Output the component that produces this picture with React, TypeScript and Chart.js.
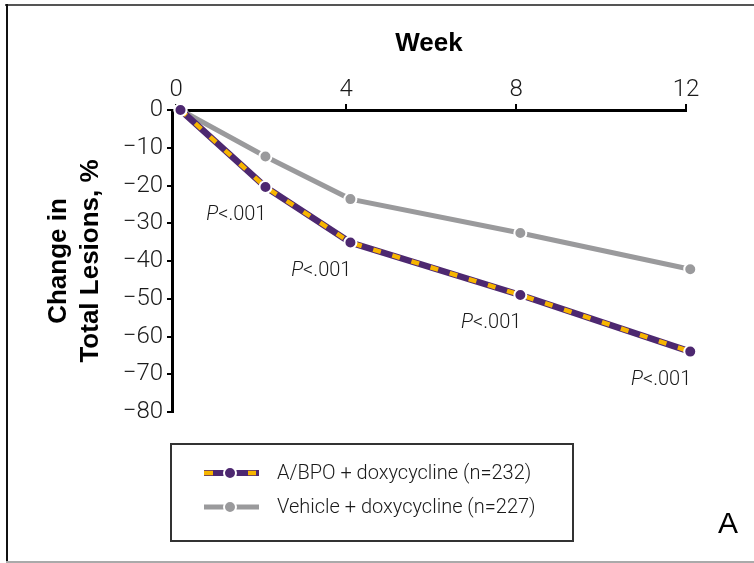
import { useEffect, useRef } from 'react';
import { Chart, registerables } from 'chart.js';

Chart.register(...registerables);

// ---- data ----
const weeks = [0, 2, 4, 8, 12];
const abpoValues = [0, -20.4, -35.1, -49.0, -64.0];
const vehicleValues = [0, -12.3, -23.6, -32.6, -42.2];
const pLabels = ['', 'P<.001', 'P<.001', 'P<.001', 'P<.001'];
const xTickValues = [0, 4, 8, 12];
const yMin = -80;
const yMax = 0;
const yStep = 10;
const seriesLabels = ['A/BPO + doxycycline (n=232)', 'Vehicle + doxycycline (n=227)'];
const xTitle = 'Week';
const yTitle = ['Change in', 'Total Lesions, %'];
const panelLabel = 'A';

// ---- styles ----
const PURPLE = '#4d2870';
const YELLOW = '#f7b500';
const GRAY = '#9a9a9c';
const TEXT = '#1a1a1a';
const LIGHT_FONT = 'Roboto, "Liberation Sans", Arial, sans-serif';
const BOLD_FONT = '"Liberation Sans", Arial, sans-serif';
const POINT_SHIFT = 0.1; // points sit slightly right of the week ticks in the figure

const toPoints = (vals: number[]) => weeks.map((w, i) => ({ x: w + POINT_SHIFT, y: vals[i] }));

const framePlugin = {
  id: 'frame',
  beforeDraw(chart: any) {
    const { ctx } = chart;
    ctx.save();
    ctx.fillStyle = '#ffffff';
    ctx.fillRect(0, 0, chart.width, chart.height);
    ctx.fillStyle = '#555555';
    ctx.fillRect(5, 4, chart.width - 5, 2);
    ctx.fillStyle = '#111111';
    ctx.fillRect(6, 4, 2, chart.height - 5);
    ctx.fillStyle = '#aaaaaa';
    ctx.fillRect(6, chart.height - 2, chart.width - 6, 2);
    ctx.restore();
  },
};

const annotationPlugin = {
  id: 'annots',
  afterDatasetsDraw(chart: any) {
    const { ctx } = chart;
    const meta = chart.getDatasetMeta(0);
    ctx.save();
    ctx.fillStyle = TEXT;
    ctx.textBaseline = 'middle';
    meta.data.forEach((pt: any, i: number) => {
      const label = pLabels[i];
      if (!label) return;
      const rest = label.slice(1);
      const x = pt.x + 1;
      const y = pt.y + 28;
      ctx.font = `300 20px ${LIGHT_FONT}`;
      const w = ctx.measureText(rest).width;
      ctx.textAlign = 'right';
      ctx.fillText(rest, x, y);
      ctx.font = `italic 300 20px ${LIGHT_FONT}`;
      ctx.fillText(label[0], x - w, y);
    });
    ctx.restore();
  },
};

const legendPlugin = {
  id: 'customLegend',
  afterDraw(chart: any) {
    const { ctx } = chart;
    ctx.save();
    // box
    ctx.strokeStyle = '#333333';
    ctx.lineWidth = 2;
    ctx.strokeRect(171, 444, 402, 97);
    const rows = [473, 507];
    const x0 = 204;
    const x1 = 259;
    const xm = 230;
    rows.forEach((y, i) => {
      if (i === 0) {
        ctx.strokeStyle = PURPLE;
        ctx.lineWidth = 6;
        ctx.beginPath();
        ctx.moveTo(x0, y);
        ctx.lineTo(x1, y);
        ctx.stroke();
        ctx.strokeStyle = YELLOW;
        ctx.lineWidth = 4.5;
        ctx.beginPath();
        ctx.moveTo(x0, y);
        ctx.lineTo(x0 + 9, y);
        ctx.moveTo(x1 - 11, y);
        ctx.lineTo(x1 - 3, y);
        ctx.stroke();
      } else {
        ctx.strokeStyle = GRAY;
        ctx.lineWidth = 5;
        ctx.beginPath();
        ctx.moveTo(x0, y);
        ctx.lineTo(x1, y);
        ctx.stroke();
      }
      ctx.beginPath();
      ctx.arc(xm, y, 6, 0, Math.PI * 2);
      ctx.fillStyle = i === 0 ? PURPLE : GRAY;
      ctx.fill();
      ctx.lineWidth = 2;
      ctx.strokeStyle = '#ffffff';
      ctx.stroke();
      ctx.fillStyle = TEXT;
      ctx.font = `300 20px ${LIGHT_FONT}`;
      ctx.textAlign = 'left';
      ctx.textBaseline = 'middle';
      ctx.fillText(seriesLabels[i], 277, y + 1);
    });
    // panel letter
    ctx.fillStyle = '#000000';
    ctx.font = `30px ${BOLD_FONT}`;
    ctx.textAlign = 'center';
    ctx.textBaseline = 'middle';
    ctx.fillText(panelLabel, 728, 525);
    ctx.restore();
  },
};

export default function App() {
  const ref = useRef<HTMLCanvasElement | null>(null);
  useEffect(() => {
    if (!ref.current) return;
    const chart = new Chart(ref.current, {
      type: 'line',
      data: {
        datasets: [
          {
            label: seriesLabels[0],
            data: toPoints(abpoValues),
            showLine: false,
            pointRadius: 6,
            pointBackgroundColor: PURPLE,
            pointBorderColor: '#ffffff',
            pointBorderWidth: 2,
            clip: false,
            order: 0,
          },
          {
            label: 'dash',
            data: toPoints(abpoValues),
            borderColor: YELLOW,
            borderWidth: 4.5,
            borderDash: [8, 12],
            pointRadius: 0,
            clip: false,
            order: 1,
          },
          {
            label: 'line',
            data: toPoints(abpoValues),
            borderColor: PURPLE,
            borderWidth: 6.5,
            pointRadius: 0,
            clip: false,
            order: 2,
          },
          {
            label: seriesLabels[1],
            data: toPoints(vehicleValues),
            borderColor: GRAY,
            borderWidth: 5,
            pointRadius: 6,
            pointBackgroundColor: GRAY,
            pointBorderColor: '#ffffff',
            pointBorderWidth: 2,
            clip: false,
            order: 3,
          },
        ],
      },
      options: {
        animation: false,
        responsive: false,
        devicePixelRatio: 1,
        layout: { padding: { left: 43, top: 26, right: 68, bottom: 151 } },
        plugins: {
          legend: { display: false },
          tooltip: { enabled: false },
        },
        scales: {
          x: {
            type: 'linear',
            position: 'top',
            min: -0.1,
            max: 12,
            afterBuildTicks: (s: any) => {
              s.ticks = xTickValues.map((v) => ({ value: v }));
            },
            afterFit: (s: any) => {
              s.height = 84;
            },
            grid: { drawOnChartArea: false, drawTicks: true, tickLength: 6, color: '#000', lineWidth: 2 },
            border: { color: '#000', width: 3 },
            ticks: {
              color: TEXT,
              font: { family: LIGHT_FONT, size: 24, weight: '300' as any },
              padding: 0,
              maxRotation: 0,
              callback: (v: any) => String(v),
            },
            title: {
              display: true,
              text: xTitle,
              color: '#000',
              font: { family: BOLD_FONT, size: 26, weight: 'bold', lineHeight: 1.23 },
              padding: { top: 2, bottom: 0 },
            },
          },
          y: {
            min: yMin,
            max: yMax,
            afterFit: (s: any) => {
              s.width = 129;
            },
            grid: { drawOnChartArea: false, drawTicks: true, tickLength: 5, color: '#000', lineWidth: 2 },
            border: { color: '#000', width: 3 },
            ticks: {
              stepSize: yStep,
              color: TEXT,
              font: { family: LIGHT_FONT, size: 24, weight: '300' as any },
              padding: 4,
              callback: (v: any) => (v === 0 ? '0' : '\u2212' + Math.abs(v)),
            },
            title: {
              display: true,
              text: yTitle,
              color: '#000',
              font: { family: BOLD_FONT, size: 26, weight: 'bold', lineHeight: 1.23 },
              padding: 0,
            },
          },
        },
      },
      plugins: [framePlugin, annotationPlugin, legendPlugin],
    });
    return () => chart.destroy();
  }, []);
  return (
    <div style={{ position: 'fixed', left: 0, top: 0, width: 754, height: 563, background: '#fff' }}>
      <canvas ref={ref} width={754} height={563} style={{ display: 'block' }} />
    </div>
  );
}
